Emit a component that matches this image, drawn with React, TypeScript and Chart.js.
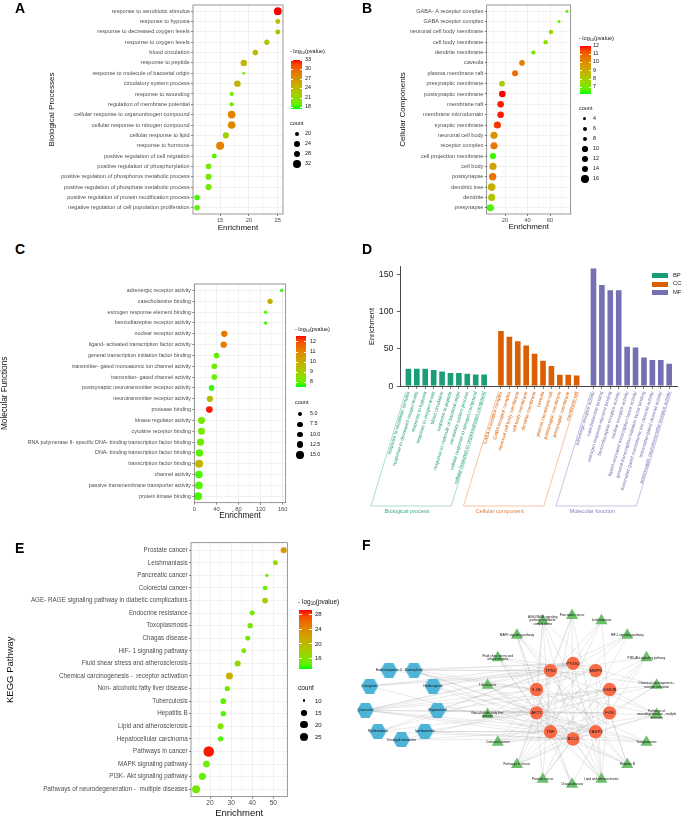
import React, { useEffect, useRef } from "react";
import { Chart, registerables } from "chart.js";
Chart.register(...registerables);

const FONT = "'Liberation Sans', Arial, Helvetica, sans-serif";
Chart.defaults.font.family = FONT;

// ---------------- A: GO biological processes ----------------
const bpTerms = [
  "response to xenobiotic stimulus",
  "response to hypoxia",
  "response to decreased oxygen levels",
  "response to oxygen levels",
  "blood circulation",
  "response to peptide",
  "response to molecule of bacterial origin",
  "circulatory system process",
  "response to wounding",
  "regulation of membrane potential",
  "cellular response to organonitrogen compound",
  "cellular response to nitrogen compound",
  "cellular response to lipid",
  "response to hormone",
  "positive regulation of cell migration",
  "positive regulation of phosphorylation",
  "positive regulation of phosphorus metabolic process",
  "positive regulation of phosphate metabolic process",
  "positive regulation of protein modification process",
  "negative regulation of cell population proliferation",
];
const bpEnrichment = [25, 25, 25, 23.1, 21.1, 19.1, 19.1, 18.0, 17.0, 17.0, 17.0, 17.0, 16.0, 15.0, 14.0, 13.0, 13.0, 13.0, 11.0, 11.0];
const bpLogP = [33, 23.8, 23.5, 23.2, 23.8, 24.3, 19.0, 24.6, 19.6, 19.8, 28.3, 28.0, 21.8, 28.5, 18.6, 19.6, 19.6, 19.6, 18.2, 18.8];
const bpCount = [32, 21, 21, 22, 23, 26, 16, 26, 19, 19, 31, 31, 25, 33, 21, 23, 25, 25, 23, 23];
const bpEnrichTicks = [15, 20, 25];
const bpLogPTicks = [18, 21, 24, 27, 30, 33];
const bpCountTicks = [20, 24, 28, 32];

// ---------------- B: GO cellular components ----------------
const ccTerms = [
  "GABA- A receptor complex",
  "GABA receptor complex",
  "neuronal cell body membrane",
  "cell body membrane",
  "dendrite membrane",
  "caveola",
  "plasma membrane raft",
  "presynaptic membrane",
  "postsynaptic membrane",
  "membrane raft",
  "membrane microdomain",
  "synaptic membrane",
  "neuronal cell body",
  "receptor complex",
  "cell projection membrane",
  "cell body",
  "postsynapse",
  "dendritic tree",
  "dendrite",
  "presynapse",
];
const ccEnrichment = [75.1, 68, 60.9, 56.1, 45.2, 35.1, 28.9, 17.3, 17.6, 16.1, 16.1, 13.2, 10.2, 10.2, 9.3, 9.3, 9.0, 8.1, 8.1, 7.0];
const ccLogP = [6.8, 6.6, 7.6, 7.4, 7.0, 10.3, 10.8, 8.2, 12, 11.9, 11.9, 11.7, 9.9, 10.5, 6.4, 9.4, 10.6, 9.0, 8.3, 6.5];
const ccCount = [4, 4, 7, 7, 6.5, 10, 11, 10, 13, 13, 13, 15, 15, 15, 12, 15, 16, 17, 15, 15];
const ccEnrichTicks = [20, 40, 60];
const ccLogPTicks = [7, 8, 9, 10, 11, 12];
const ccCountTicks = [4, 6, 8, 10, 12, 14, 16];

// ---------------- C: GO molecular functions ----------------
const mfTerms = [
  "adrenergic receptor activity",
  "catecholamine binding",
  "estrogen response element binding",
  "benzodiazepine receptor activity",
  "nuclear receptor activity",
  "ligand- activated transcription factor activity",
  "general transcription initiation factor binding",
  "transmitter- gated monoatomic ion channel activity",
  "transmitter- gated channel activity",
  "postsynaptic neurotransmitter receptor activity",
  "neurotransmitter receptor activity",
  "protease binding",
  "kinase regulator activity",
  "cytokine receptor binding",
  "RNA polymerase II- specific DNA- binding transcription factor binding",
  "DNA- binding transcription factor binding",
  "transcription factor binding",
  "channel activity",
  "passive transmembrane transporter activity",
  "protein kinase binding",
];
const mfEnrichment = [158, 137, 129, 129, 54, 53, 40, 36, 36, 31, 28, 27, 12.7, 12.7, 11, 9, 8.5, 8, 8, 6.6];
const mfLogP = [7.8, 10.0, 7.8, 7.8, 11.3, 11.2, 8.0, 8.1, 8.1, 7.7, 9.6, 12.5, 8.3, 8.3, 8.2, 7.9, 9.8, 7.8, 7.9, 7.8];
const mfCount = [3.8, 8.2, 3.8, 3.8, 11.2, 11.2, 9.1, 9.1, 9.1, 9.1, 11, 12.3, 13.5, 13.5, 14.8, 14.8, 17.4, 16, 16, 17.4];
const mfEnrichTicks = [0, 40, 80, 120, 160];
const mfLogPTicks = [8, 9, 10, 11, 12];
const mfCountTicks = [5, 7.5, 10, 12.5, 15];

// ---------------- E: KEGG pathways ----------------
const keggTerms = [
  "Prostate cancer",
  "Leishmaniasis",
  "Pancreatic cancer",
  "Colorectal cancer",
  "AGE- RAGE signaling pathway in diabetic complications",
  "Endocrine resistance",
  "Toxoplasmosis",
  "Chagas disease",
  "HIF- 1 signaling pathway",
  "Fluid shear stress and atherosclerosis",
  "Chemical carcinogenesis -  receptor activation",
  "Non- alcoholic fatty liver disease",
  "Tuberculosis",
  "Hepatitis B",
  "Lipid and atherosclerosis",
  "Hepatocellular carcinoma",
  "Pathways in cancer",
  "MAPK signaling pathway",
  "PI3K- Akt signaling pathway",
  "Pathways of neurodegeneration -  multiple diseases",
];
const keggEnrichment = [54.9, 51, 46.9, 46.1, 46.1, 40, 39, 37.9, 36, 33.1, 29.2, 28.2, 26.3, 26.3, 25, 25, 19.4, 18.3, 16.4, 13.4];
const keggLogP = [22.5, 16.5, 14.5, 15, 18.5, 14.8, 15.5, 15, 15.5, 17, 20.5, 15, 14.2, 13.8, 15.8, 13.8, 29, 14.8, 14.3, 15.2];
const keggCount = [16.3, 13.7, 10.5, 13, 15.4, 13.7, 14.5, 13.7, 13.7, 16.3, 19.3, 14.5, 15.4, 14.5, 16.3, 14.5, 34, 18.3, 19.3, 22.8];
const keggEnrichTicks = [20, 30, 40, 50];
const keggLogPTicks = [16, 20, 24, 28];
const keggCountTicks = [10, 15, 20, 25];

// ---------------- D: top-10 enrichment bars ----------------
const bpBarTerms = [
  "response to xenobiotic stimulus",
  "response to decreased oxygen levels",
  "response to hypoxia",
  "response to oxygen levels",
  "blood circulation",
  "response to peptide",
  "response to molecule of bacterial origin",
  "circulatory system process",
  "cellular response to nitrogen compound",
  "cellular response to organonitrogen compound",
];
const bpBarValues = [24.5, 24.5, 24.5, 23, 21, 19, 19, 18, 17, 17];
const ccBarTerms = [
  "GABA-A receptor complex",
  "GABA receptor complex",
  "neuronal cell body membrane",
  "cell body membrane",
  "dendrite membrane",
  "caveola",
  "plasma membrane raft",
  "postsynaptic membrane",
  "presynaptic membrane",
  "membrane raft",
];
const ccBarValues = [75, 67.4, 61.2, 55.8, 44.6, 35.3, 28.1, 16.5, 16.5, 15.6];
const mfBarTerms = [
  "adrenergic receptor activity",
  "catecholamine binding",
  "estrogen response element binding",
  "benzodiazepine receptor activity",
  "nuclear receptor activity",
  "ligand-activated transcription factor activity",
  "general transcription initiation factor binding",
  "transmitter-gated monoatomic ion channel activity",
  "transmitter-gated channel activity",
  "postsynaptic neurotransmitter receptor activity",
];
const mfBarValues = [158.5, 136.6, 129.5, 129.5, 54, 53.1, 39.7, 36.2, 36.2, 31.3];
const barGroupNames = ["Biological process", "Cellular component", "Molecular function"];
const barSeriesNames = ["BP", "CC", "MF"];
const barAxisTicks = [0, 50, 100, 150];

// ---------------- F: compound-target-pathway network ----------------
const targetNames = ["PTGS2", "MMP9", "GSK3B", "FOS", "CASP3", "BCL2", "TNF", "AKT1", "IL1B", "TP53"];
const compoundNames = ["Kaempferol", "Hederagenin", "Stigmasterol", "Isorhamnetin", "Tetrahydroalstonine", "Poriferasterol", "Quercetin", "Diosgenin", "Hederasaponin C"];
const compoundTargets = [
  ["PTGS2", "TP53", "AKT1", "IL1B", "CASP3", "BCL2"],
  ["TP53", "PTGS2", "CASP3", "TNF"],
  ["PTGS2", "AKT1", "FOS", "GSK3B"],
  ["TNF", "BCL2", "AKT1", "CASP3"],
  ["TNF", "GSK3B", "BCL2"],
  ["BCL2", "AKT1", "PTGS2", "MMP9"],
  ["TP53", "PTGS2", "MMP9", "AKT1", "IL1B", "TNF", "BCL2", "CASP3", "FOS", "GSK3B"],
  ["TP53", "BCL2", "MMP9", "PTGS2"],
  ["PTGS2", "TP53", "IL1B"],
];
const pathwayNames = [
  "Pancreatic cancer",
  "Leishmaniasis",
  "HIF-1 signaling pathway",
  "PI3K-Akt signaling pathway",
  "Chemical carcinogenesis -\nreceptor activation",
  "Pathways of\nneurodegeneration - multiple\ndiseases",
  "Toxoplasmosis",
  "Hepatitis B",
  "Lipid and atherosclerosis",
  "Chagas disease",
  "Prostate cancer",
  "Pathways in cancer",
  "Colorectal cancer",
  "Non-alcoholic fatty liver\ndisease",
  "Tuberculosis",
  "Fluid shear stress and\natherosclerosis",
  "MAPK signaling pathway",
  "AGE-RAGE signaling\npathway in diabetic\ncomplications",
];
const pathwayTargets = [
  ["TP53", "AKT1", "BCL2", "CASP3", "TNF"],
  ["IL1B", "TNF", "PTGS2", "FOS"],
  ["AKT1", "BCL2", "IL1B", "TP53"],
  ["AKT1", "BCL2", "TP53", "GSK3B", "CASP3"],
  ["AKT1", "BCL2", "FOS", "GSK3B", "PTGS2", "TP53"],
  ["AKT1", "BCL2", "CASP3", "GSK3B", "IL1B", "TNF", "TP53"],
  ["AKT1", "BCL2", "CASP3", "IL1B", "TNF"],
  ["AKT1", "BCL2", "CASP3", "FOS", "MMP9", "TNF", "TP53"],
  ["AKT1", "BCL2", "CASP3", "GSK3B", "IL1B", "MMP9", "PTGS2", "TNF", "TP53"],
  ["AKT1", "FOS", "IL1B", "TNF"],
  ["AKT1", "BCL2", "GSK3B", "MMP9", "TP53"],
  ["AKT1", "BCL2", "CASP3", "FOS", "GSK3B", "MMP9", "PTGS2", "TP53"],
  ["AKT1", "BCL2", "CASP3", "FOS", "TP53", "GSK3B"],
  ["AKT1", "CASP3", "GSK3B", "IL1B", "TNF"],
  ["AKT1", "BCL2", "CASP3", "IL1B", "TNF"],
  ["AKT1", "BCL2", "IL1B", "MMP9", "TNF", "TP53"],
  ["AKT1", "CASP3", "FOS", "IL1B", "TNF", "TP53"],
  ["AKT1", "BCL2", "CASP3", "IL1B", "MMP9", "TNF"],
];

// ---------------- colour helpers (ggplot-like Lab gradient green -> red) ----------------
function srgbToLin(c: number) {
  c /= 255;
  return c <= 0.04045 ? c / 12.92 : Math.pow((c + 0.055) / 1.055, 2.4);
}
function linToSrgb(c: number) {
  const v = c <= 0.0031308 ? 12.92 * c : 1.055 * Math.pow(c, 1 / 2.4) - 0.055;
  return Math.round(Math.max(0, Math.min(1, v)) * 255);
}
const XN = 0.95047, YN = 1, ZN = 1.08883;
function rgbToLab(r: number, g: number, b: number) {
  const R = srgbToLin(r), G = srgbToLin(g), B = srgbToLin(b);
  const X = 0.4124 * R + 0.3576 * G + 0.1805 * B;
  const Y = 0.2126 * R + 0.7152 * G + 0.0722 * B;
  const Z = 0.0193 * R + 0.1192 * G + 0.9505 * B;
  const f = (t: number) => (t > 0.008856 ? Math.cbrt(t) : 7.787 * t + 16 / 116);
  return [116 * f(Y / YN) - 16, 500 * (f(X / XN) - f(Y / YN)), 200 * (f(Y / YN) - f(Z / ZN))];
}
function labToRgb(L: number, a: number, b: number) {
  const fy = (L + 16) / 116, fx = fy + a / 500, fz = fy - b / 200;
  const fi = (t: number) => (t * t * t > 0.008856 ? t * t * t : (t - 16 / 116) / 7.787);
  const X = XN * fi(fx), Y = YN * fi(fy), Z = ZN * fi(fz);
  const R = 3.2406 * X - 1.5372 * Y - 0.4986 * Z;
  const G = -0.9689 * X + 1.8758 * Y + 0.0415 * Z;
  const B = 0.0557 * X - 0.204 * Y + 1.057 * Z;
  return [linToSrgb(R), linToSrgb(G), linToSrgb(B)];
}
const LAB_LO = rgbToLab(0, 255, 0);
const LAB_HI = rgbToLab(255, 0, 0);
function gradColor(t: number) {
  t = Math.max(0, Math.min(1, t));
  const l = LAB_LO.map((v, i) => v + (LAB_HI[i] - v) * t);
  const [r, g, b] = labToRgb(l[0], l[1], l[2]);
  return `rgb(${r},${g},${b})`;
}

// ---------------- layout settings for the bubble panels ----------------
type BL = any;
const layoutA: BL = {
  box: { x: 0, y: 0, w: 340, h: 240 }, area: { l: 193, t: 5, r: 283, b: 214 },
  xMin: 10.3, xMax: 25.9, yTitle: "Biological Processes", yTitleX: 52, xTitleY: 227.7,
  titleSize: 8, labelSize: 5.6, tickSize: 5.8, sizeA: 0.913, sizeC0: 13.65, logRange: [17.5, 33],
  leg: { barX: 291, barTop: 60, barH: 49, barW: 11, titleY: 52, countTitleY: 124, dotX: 297, dotY0: 134, dotStep: 10, labelX: 305, titleSize: 5.5, labelSize: 5.3 },
};
const layoutB: BL = {
  box: { x: 340, y: 0, w: 345, h: 240 }, area: { l: 486.7, t: 5, r: 570.7, b: 214 },
  xMin: 3.7, xMax: 78.4, yTitle: "Cellular Components", yTitleX: 403, xTitleY: 226.7,
  titleSize: 8, labelSize: 5.6, tickSize: 5.8, sizeA: 0.977, sizeC0: 1.64, logRange: [6.2, 12],
  leg: { barX: 580, barTop: 45.7, barH: 48.3, barW: 11, titleY: 39, countTitleY: 109, dotX: 585, dotY0: 119, dotStep: 10, labelX: 593, titleSize: 5.5, labelSize: 5.3 },
};
const layoutC: BL = {
  box: { x: 0, y: 260, w: 340, h: 265 }, area: { l: 194.3, t: 284, r: 285.7, b: 502.7 },
  xMin: -0.3, xMax: 165.4, yTitle: "Molecular Functions", yTitleX: 4.5, xTitleY: 516,
  titleSize: 8.2, labelSize: 5.35, tickSize: 5.8, sizeA: 0.984, sizeC0: 0.87, logRange: [7.57, 12.56],
  leg: { barX: 296, barTop: 336, barH: 50.7, barW: 10, titleY: 330, countTitleY: 403, dotX: 300, dotY0: 414, dotStep: 10.25, labelX: 310, titleSize: 5.5, labelSize: 5.3 },
};
const layoutE: BL = {
  box: { x: 0, y: 530, w: 340, h: 287 }, area: { l: 191, t: 542.7, r: 287.3, b: 796.7 },
  xMin: 11, xMax: 56.6, yTitle: "KEGG Pathway", yTitleX: 10, xTitleY: 813,
  titleSize: 9.5, labelSize: 6.3, tickSize: 6.6, sizeA: 1.035, sizeC0: 7.9, logRange: [13, 29.2],
  leg: { barX: 299, barTop: 610, barH: 59.3, barW: 12.5, titleY: 601.7, countTitleY: 688, dotX: 304, dotY0: 700.7, dotStep: 12.1, labelX: 315, titleSize: 6.5, labelSize: 6 },
};

function sizeR(c: number, L: BL) {
  return L.sizeA * Math.sqrt(Math.max(c - L.sizeC0, 0.3));
}

const framePlugin = {
  id: "frame",
  afterDraw(chart: any) {
    const { ctx, chartArea } = chart;
    ctx.save();
    ctx.strokeStyle = "#6a6a6a";
    ctx.lineWidth = 0.7;
    ctx.strokeRect(chartArea.left, chartArea.top, chartArea.right - chartArea.left, chartArea.bottom - chartArea.top);
    ctx.restore();
  },
};

function BubbleChart({ terms, xs, logp, counts, majors, L }: any) {
  const ref = useRef<HTMLCanvasElement>(null);
  useEffect(() => {
    const { box, area } = L;
    const lh = L.titleSize * 1.2;
    const rawL = L.yTitleX - box.x - lh / 2;
    const padL = Math.max(0, rawL);
    const yTitlePad = rawL - padL;
    const yWidth = area.l - box.x - padL;
    const xHeight = box.y + box.h - area.b;
    const xTitlePad = box.y + box.h - L.xTitleY - lh / 2;
    const step = majors[1] - majors[0];
    const minors: number[] = [];
    for (let v = majors[0] - step / 2; v <= majors[majors.length - 1] + step / 2 + 1e-9; v += step) {
      if (v >= L.xMin && v <= L.xMax) minors.push(v);
    }
    const isMajor = (v: number) => majors.some((m: number) => Math.abs(m - v) < 1e-9);
    const allX = [...majors, ...minors].sort((a, b) => a - b);
    const [lo, hi] = L.logRange;
    const radii = counts.map((c: number) => sizeR(c, L));
    const cols = logp.map((v: number) => gradColor((v - lo) / (hi - lo)));
    const chart = new Chart(ref.current as HTMLCanvasElement, {
      type: "scatter",
      data: {
        datasets: [
          {
            data: xs.map((x: number, i: number) => ({ x, y: i })),
            pointRadius: radii,
            pointHoverRadius: radii,
            pointBackgroundColor: cols,
            backgroundColor: cols,
            pointBorderWidth: 0,
            borderWidth: 0,
            clip: false,
          } as any,
        ],
      },
      options: {
        responsive: false,
        animation: false,
        events: [],
        layout: { padding: { left: padL, top: area.t - box.y, right: box.x + box.w - area.r, bottom: 0 } },
        plugins: { legend: { display: false }, tooltip: { enabled: false } },
        scales: {
          x: {
            type: "linear",
            min: L.xMin,
            max: L.xMax,
            afterBuildTicks: (s: any) => {
              s.ticks = allX.map((v) => ({ value: v }));
            },
            afterFit: (s: any) => {
              s.height = xHeight;
            },
            border: { display: false },
            grid: {
              color: "#EBEBEB",
              lineWidth: (c: any) => (c.tick && isMajor(c.tick.value) ? 0.7 : 0.35),
              tickLength: 2,
              tickWidth: 0.6,
              tickColor: (c: any) => (c.tick && isMajor(c.tick.value) ? "#333" : "rgba(0,0,0,0)"),
            },
            ticks: {
              autoSkip: false,
              maxRotation: 0,
              padding: 1,
              color: "#4D4D4D",
              font: { size: L.tickSize, family: FONT },
              callback: (v: any) => (isMajor(Number(v)) ? String(v) : ""),
            },
            title: {
              display: true,
              text: "Enrichment",
              color: "#111",
              font: { size: L.titleSize, family: FONT },
              padding: { top: 0, bottom: xTitlePad },
            },
          },
          y: {
            type: "linear",
            reverse: true,
            min: -0.6,
            max: terms.length - 0.4,
            afterBuildTicks: (s: any) => {
              s.ticks = terms.map((_: any, i: number) => ({ value: i }));
            },
            afterFit: (s: any) => {
              s.width = yWidth;
            },
            border: { display: false },
            grid: { color: "#EBEBEB", lineWidth: 0.7, tickLength: 2, tickWidth: 0.6, tickColor: "#333" },
            ticks: {
              autoSkip: false,
              padding: 1.3,
              color: "#4D4D4D",
              font: { size: L.labelSize, family: FONT },
              callback: (v: any) => terms[Math.round(Number(v))] ?? "",
            },
            title: {
              display: true,
              text: L.yTitle,
              color: "#111",
              font: { size: L.titleSize, family: FONT },
              padding: { top: yTitlePad, bottom: 0 },
            },
          },
        },
      } as any,
      plugins: [framePlugin],
    });
    return () => chart.destroy();
  }, []);
  const { box } = L;
  return (
    <canvas
      ref={ref}
      width={box.w}
      height={box.h}
      style={{ position: "absolute", left: box.x, top: box.y, width: box.w, height: box.h }}
    />
  );
}

const txt = (extra: any) => ({
  position: "absolute" as const,
  fontFamily: FONT,
  lineHeight: 1,
  whiteSpace: "nowrap" as const,
  transform: "translateY(-50%)",
  color: "#111",
  ...extra,
});

function BubbleLegend({ L, logTicks, countTicks, countLabels }: any) {
  const g = L.leg;
  const [lo, hi] = L.logRange;
  const stops = Array.from({ length: 13 }, (_, i) => `${gradColor(1 - i / 12)} ${((i / 12) * 100).toFixed(1)}%`).join(",");
  const yOf = (v: number) => g.barTop + ((hi - v) / (hi - lo)) * g.barH;
  return (
    <>
      <div style={txt({ left: g.barX - 1, top: g.titleY, fontSize: g.titleSize })}>
        - log
        <span style={{ fontSize: "0.7em", position: "relative", top: "0.35em" }}>10</span>
        (pvalue)
      </div>
      <div
        style={{
          position: "absolute",
          left: g.barX,
          top: g.barTop,
          width: g.barW,
          height: g.barH,
          background: `linear-gradient(to bottom, ${stops})`,
        }}
      />
      {logTicks.map((v: number) => (
        <React.Fragment key={"t" + v}>
          <div style={{ position: "absolute", left: g.barX, top: yOf(v) - 0.3, width: g.barW * 0.2, height: 0.6, background: "#fff" }} />
          <div style={{ position: "absolute", left: g.barX + g.barW * 0.8, top: yOf(v) - 0.3, width: g.barW * 0.2, height: 0.6, background: "#fff" }} />
          <div style={txt({ left: g.labelX, top: yOf(v), fontSize: g.labelSize })}>{v}</div>
        </React.Fragment>
      ))}
      <div style={txt({ left: g.barX - 1, top: g.countTitleY, fontSize: g.titleSize })}>count</div>
      {countTicks.map((c: number, i: number) => {
        const r = sizeR(c, L);
        const y = g.dotY0 + i * g.dotStep;
        return (
          <React.Fragment key={"c" + c}>
            <div
              style={{
                position: "absolute",
                left: g.dotX - r,
                top: y - r,
                width: 2 * r,
                height: 2 * r,
                borderRadius: "50%",
                background: "#000",
              }}
            />
            <div style={txt({ left: g.labelX, top: y, fontSize: g.labelSize })}>{countLabels ? countLabels[i] : c}</div>
          </React.Fragment>
        );
      })}
    </>
  );
}

// ---------------- D: bar panel ----------------
const barColors = ["#1B9E77", "#D95F02", "#7570B3"];
const bracketColors = ["#86CFB8", "#F0AA7C", "#ADAADA"];
const bracketTextColors = ["#3DAE8B", "#E27B37", "#8581C2"];

function BarPanel() {
  const ref = useRef<HTMLCanvasElement>(null);
  const box = { x: 340, y: 255, w: 345, h: 265 };
  useEffect(() => {
    const area = { l: 400 - box.x, t: 266.7 - box.y, r: 683 - box.x, b: 386.3 - box.y };
    const groups = [bpBarTerms, ccBarTerms, mfBarTerms];
    const values = [bpBarValues, ccBarValues, mfBarValues];
    const labels: string[] = [""];
    const offsets: number[] = [];
    groups.forEach((g) => {
      offsets.push(labels.length);
      labels.push(...g, "");
    });
    const groupOf = (i: number) => {
      for (let k = 0; k < groups.length; k++) if (i >= offsets[k] && i < offsets[k] + groups[k].length) return k;
      return -1;
    };
    const titleSize = 7.3;
    const lh = titleSize * 1.2;
    const padL = 371.7 - box.x - lh / 2;
    const bottomY = 506 - box.y;
    const labelY = 511 - box.y;
    const angle = (73 * Math.PI) / 180;
    const brackets = {
      id: "brackets",
      afterDraw(chart: any) {
        const { ctx, scales, chartArea } = chart;
        const xs = scales.x;
        const slot = xs.getPixelForValue(1) - xs.getPixelForValue(0);
        const yTop = chartArea.bottom + 5.4;
        const dx = (bottomY - yTop) / Math.tan(angle);
        ctx.save();
        groups.forEach((g, k) => {
          const x1 = xs.getPixelForValue(offsets[k]) - slot * 0.3;
          const x2 = xs.getPixelForValue(offsets[k] + g.length - 1) + slot * 0.25;
          ctx.strokeStyle = bracketColors[k];
          ctx.lineWidth = 0.7;
          ctx.beginPath();
          ctx.moveTo(x1, yTop);
          ctx.lineTo(x1 - dx, bottomY);
          ctx.lineTo(x2 - dx, bottomY);
          ctx.lineTo(x2, yTop);
          ctx.stroke();
          ctx.fillStyle = bracketTextColors[k];
          ctx.font = `5.6px ${FONT}`;
          ctx.textAlign = "center";
          ctx.textBaseline = "middle";
          const bl = x1 - dx, br = x2 - dx;
          ctx.fillText(barGroupNames[k], bl + (br - bl) * 0.45, labelY);
        });
        ctx.restore();
      },
    };
    const chart = new Chart(ref.current as HTMLCanvasElement, {
      type: "bar",
      data: {
        labels,
        datasets: groups.map((g, k) => ({
          label: barSeriesNames[k],
          data: labels.map((_, i) => (groupOf(i) === k ? values[k][i - offsets[k]] : null)),
          backgroundColor: barColors[k],
          borderColor: "rgba(255,255,255,0.55)",
          borderWidth: 0.8,
          grouped: false,
          barPercentage: 0.86,
          categoryPercentage: 1,
        })) as any,
      },
      options: {
        responsive: false,
        animation: false,
        events: [],
        layout: { padding: { left: padL, top: area.t, right: box.w - area.r, bottom: 0 } },
        plugins: { legend: { display: false }, tooltip: { enabled: false } },
        scales: {
          x: {
            type: "category",
            offset: false,
            afterFit: (s: any) => {
              s.height = box.h - area.b;
            },
            border: { display: true, color: "#333", width: 0.9 },
            grid: {
              offset: false,
              drawOnChartArea: false,
              tickLength: 2.5,
              tickWidth: 0.7,
              tickColor: (c: any) => (groupOf(c.index) >= 0 ? "#333" : "rgba(0,0,0,0)"),
            },
            ticks: {
              autoSkip: false,
              minRotation: 73,
              maxRotation: 73,
              padding: 2,
              font: { size: 4.7, family: FONT },
              color: (c: any) => barColors[Math.max(0, groupOf(c.index))],
            },
          },
          y: {
            type: "linear",
            min: 0,
            max: 160,
            afterBuildTicks: (s: any) => {
              s.ticks = barAxisTicks.map((v) => ({ value: v }));
            },
            afterFit: (s: any) => {
              s.width = area.l - padL;
            },
            border: { display: true, color: "#333", width: 0.9 },
            grid: { drawOnChartArea: false, tickLength: 3, tickWidth: 0.8, tickColor: "#333" },
            ticks: { padding: 3.5, color: "#222", font: { size: 8.8, family: FONT } },
            title: {
              display: true,
              text: "Enrichment",
              color: "#222",
              font: { size: titleSize, family: FONT },
              padding: { top: 0, bottom: 0 },
            },
          },
        },
      } as any,
      plugins: [brackets],
    });
    return () => chart.destroy();
  }, []);
  return (
    <>
      <canvas
        ref={ref}
        width={box.w}
        height={box.h}
        style={{ position: "absolute", left: box.x, top: box.y, width: box.w, height: box.h }}
      />
      {barSeriesNames.map((n, k) => (
        <React.Fragment key={n}>
          <div
            style={{
              position: "absolute",
              left: 651.7,
              top: 275.7 + k * 8.5 - 2.4,
              width: 16.5,
              height: 4.8,
              background: barColors[k],
            }}
          />
          <div style={txt({ left: 673, top: 275.7 + k * 8.5, fontSize: 5.8, color: "#222" })}>{n}</div>
        </React.Fragment>
      ))}
    </>
  );
}

// ---------------- F: network panel ----------------
const netLayout = {
  box: { x: 340, y: 560, w: 345, h: 257 },
  compound: { cx: 56, cy: 145, r: 38.3, start: 20, step: 40 },
  target: { cx: 236, cy: 142, r: 40.3, start: 0, step: 36 },
  pathway: { cx: 235, cy: 140.7, r: 90, start: 0, step: 20 },
};
function ringPos(R: any, i: number) {
  const a = ((R.start + R.step * i) * Math.PI) / 180;
  return { x: R.cx + R.r * Math.sin(a), y: R.cy - R.r * Math.cos(a) };
}

const nodeLabelPlugin = {
  id: "nodeLabels",
  afterDatasetsDraw(chart: any) {
    const ctx = chart.ctx;
    chart.data.datasets.forEach((ds: any, di: number) => {
      if (!ds.nodeLabels) return;
      const meta = chart.getDatasetMeta(di);
      ctx.save();
      ctx.font = `${ds.labelWeight || ""} ${ds.labelSize}px ${FONT}`;
      ctx.fillStyle = "#111";
      ctx.textAlign = "center";
      ctx.textBaseline = "middle";
      meta.data.forEach((el: any, j: number) => {
        const lines = String(ds.nodeLabels[j]).split("\n");
        const lh = ds.labelSize * 1.15;
        lines.forEach((ln, k) => {
          ctx.fillText(ln, el.x, el.y + (k - (lines.length - 1) / 2) * lh + (ds.labelDy || 0));
        });
      });
      ctx.restore();
    });
  },
};

function NetworkPanel() {
  const ref = useRef<HTMLCanvasElement>(null);
  const { box } = netLayout;
  useEffect(() => {
    const hex = document.createElement("canvas");
    hex.width = 17;
    hex.height = 15;
    const hc = hex.getContext("2d") as CanvasRenderingContext2D;
    hc.fillStyle = "#4DB4D8";
    hc.beginPath();
    hc.moveTo(0, 7.5);
    hc.lineTo(4.25, 0);
    hc.lineTo(12.75, 0);
    hc.lineTo(17, 7.5);
    hc.lineTo(12.75, 15);
    hc.lineTo(4.25, 15);
    hc.closePath();
    hc.fill();

    const cPos = compoundNames.map((_, i) => ringPos(netLayout.compound, i));
    const tPos = targetNames.map((_, i) => ringPos(netLayout.target, i));
    const pPos = pathwayNames.map((_, i) => ringPos(netLayout.pathway, i));
    const edgeDs: any[] = [];
    const addEdge = (a: any, b: any) =>
      edgeDs.push({
        type: "scatter",
        data: [a, b],
        showLine: true,
        borderColor: "rgba(150,150,150,0.5)",
        borderWidth: 0.4,
        pointRadius: 0,
        order: 5,
      });
    compoundTargets.forEach((ts, i) => ts.forEach((t) => addEdge(cPos[i], tPos[targetNames.indexOf(t)])));
    pathwayTargets.forEach((ts, i) => ts.forEach((t) => addEdge(pPos[i], tPos[targetNames.indexOf(t)])));

    const chart = new Chart(ref.current as HTMLCanvasElement, {
      type: "scatter",
      data: {
        datasets: [
          ...edgeDs,
          {
            data: pPos,
            pointStyle: "triangle",
            pointRadius: 7,
            backgroundColor: "#6DBF6B",
            borderWidth: 0,
            order: 2,
            nodeLabels: pathwayNames,
            labelSize: 3.1,
          },
          {
            data: tPos,
            pointStyle: "circle",
            pointRadius: 6.7,
            backgroundColor: "#F96A46",
            borderWidth: 0,
            order: 1,
            nodeLabels: targetNames,
            labelSize: 4.2,
          },
          {
            data: cPos,
            pointStyle: hex,
            pointRadius: 8,
            backgroundColor: "#4DB4D8",
            borderWidth: 0,
            order: 0,
            nodeLabels: compoundNames,
            labelSize: 3.4,
          },
        ] as any,
      },
      options: {
        responsive: false,
        animation: false,
        events: [],
        layout: { padding: 0 },
        plugins: { legend: { display: false }, tooltip: { enabled: false } },
        scales: {
          x: { type: "linear", min: 0, max: box.w, display: false },
          y: { type: "linear", min: 0, max: box.h, reverse: true, display: false },
        },
      } as any,
      plugins: [nodeLabelPlugin],
    });
    return () => chart.destroy();
  }, []);
  return (
    <canvas
      ref={ref}
      width={box.w}
      height={box.h}
      style={{ position: "absolute", left: box.x, top: box.y, width: box.w, height: box.h }}
    />
  );
}

const letterStyle = (left: number, top: number) => ({
  position: "absolute" as const,
  left,
  top,
  fontFamily: FONT,
  fontWeight: 700,
  fontSize: 14,
  lineHeight: 1,
  color: "#000",
});

export default function App() {
  return (
    <div
      style={{
        position: "absolute",
        left: 0,
        top: 0,
        width: 685,
        height: 817,
        background: "#fff",
        overflow: "hidden",
      }}
    >
      <BubbleChart terms={bpTerms} xs={bpEnrichment} logp={bpLogP} counts={bpCount} majors={bpEnrichTicks} L={layoutA} />
      <BubbleLegend L={layoutA} logTicks={bpLogPTicks} countTicks={bpCountTicks} />
      <BubbleChart terms={ccTerms} xs={ccEnrichment} logp={ccLogP} counts={ccCount} majors={ccEnrichTicks} L={layoutB} />
      <BubbleLegend L={layoutB} logTicks={ccLogPTicks} countTicks={ccCountTicks} />
      <BubbleChart terms={mfTerms} xs={mfEnrichment} logp={mfLogP} counts={mfCount} majors={mfEnrichTicks} L={layoutC} />
      <BubbleLegend L={layoutC} logTicks={mfLogPTicks} countTicks={mfCountTicks} countLabels={mfCountTicks.map((v) => v.toFixed(1))} />
      <BubbleChart terms={keggTerms} xs={keggEnrichment} logp={keggLogP} counts={keggCount} majors={keggEnrichTicks} L={layoutE} />
      <BubbleLegend L={layoutE} logTicks={keggLogPTicks} countTicks={keggCountTicks} />
      <BarPanel />
      <NetworkPanel />
      <div style={letterStyle(15, 1)}>A</div>
      <div style={letterStyle(362, 1)}>B</div>
      <div style={letterStyle(15, 242)}>C</div>
      <div style={letterStyle(362, 242)}>D</div>
      <div style={letterStyle(15, 541)}>E</div>
      <div style={letterStyle(362, 538)}>F</div>
    </div>
  );
}
